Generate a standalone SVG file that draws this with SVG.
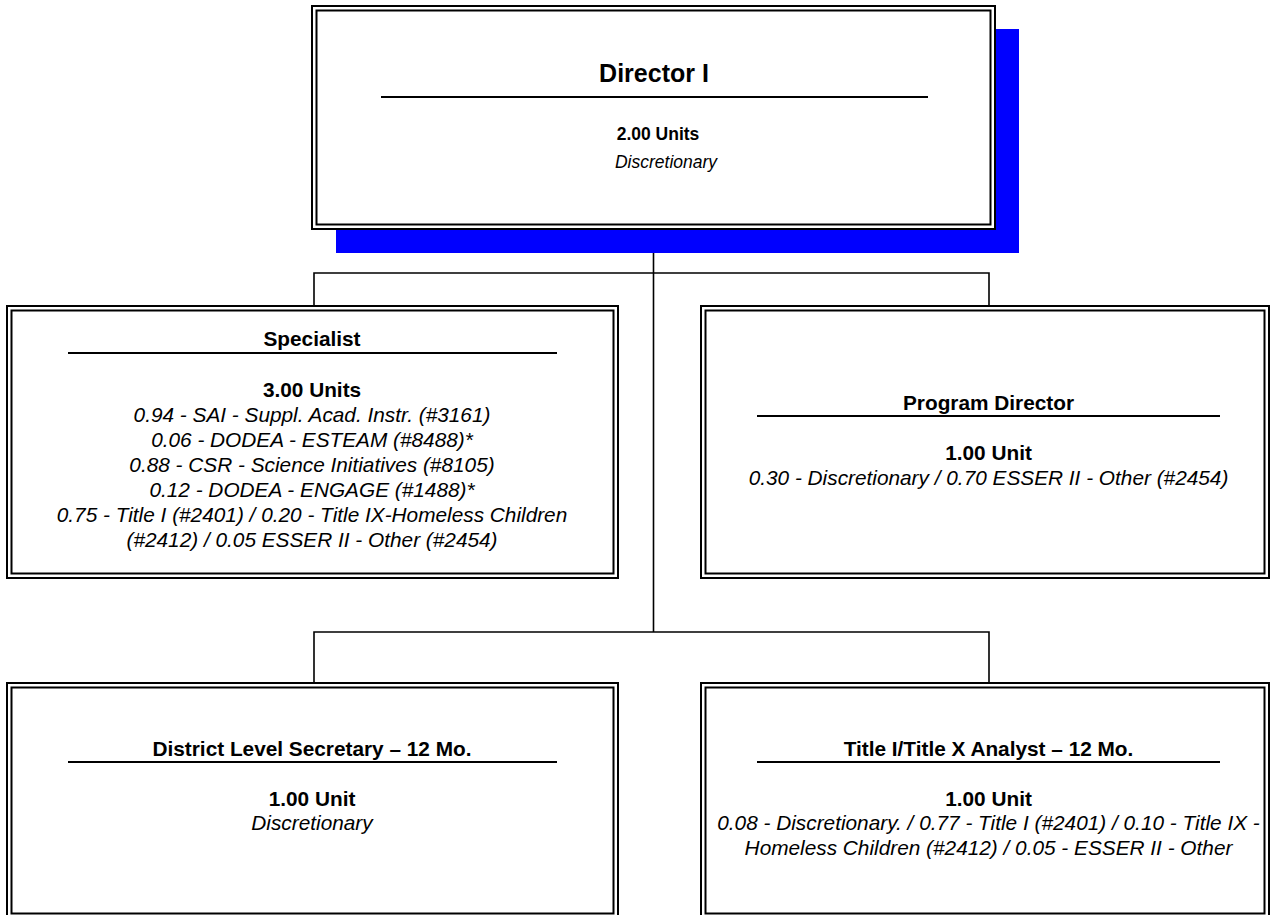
<svg xmlns="http://www.w3.org/2000/svg" width="1272" height="915" viewBox="0 0 1272 915">
<style>
.o{fill:#fff;stroke:#000;stroke-width:2}
.i{fill:none;stroke:#000;stroke-width:2}
.sh{fill:#0000ff}
.rule{stroke:#000;stroke-width:2}
.c{fill:none;stroke:#000;stroke-width:1.6}
text{font-family:"Liberation Sans",Arial,sans-serif;text-anchor:middle;fill:#000}
.t{font-weight:bold;font-size:20.8px}
.b{font-weight:bold;font-size:20.8px}
.it{font-style:italic;font-size:20.8px}
</style>
<rect width="1272" height="915" fill="#fff"/>
<g id="connectors">
<path class="c" d="M653.5,229 V632"/>
<path class="c" d="M314,306 V273 H989 V306"/>
<path class="c" d="M314,683 V632 H989 V683"/>
</g>
<g id="director">
<rect class="sh" x="336" y="29" width="683" height="224"/>
<rect class="o" x="312" y="6" width="683" height="223"/>
<rect class="i" x="316.5" y="10.5" width="674" height="214"/>
<text x="654" y="82" style="font-weight:bold;font-size:25px">Director I</text>
<line class="rule" x1="381" y1="97" x2="928" y2="97"/>
<text x="658" y="140" style="font-weight:bold;font-size:17.5px">2.00 Units</text>
<text x="666" y="168" style="font-style:italic;font-size:17.5px">Discretionary</text>
</g>
<g id="specialist">
<rect class="o" x="7" y="306" width="611" height="272"/>
<rect class="i" x="11.5" y="310.5" width="602" height="263"/>
<text class="t" x="312" y="346">Specialist</text>
<line class="rule" x1="68" y1="353" x2="557" y2="353"/>
<text class="b" x="312" y="397">3.00 Units</text>
<text class="it" x="312" y="422">0.94 - SAI - Suppl. Acad. Instr. (#3161)</text>
<text class="it" x="312" y="447">0.06 - DODEA - ESTEAM (#8488)*</text>
<text class="it" x="312" y="472">0.88 - CSR - Science Initiatives (#8105)</text>
<text class="it" x="312" y="497">0.12 - DODEA - ENGAGE (#1488)*</text>
<text class="it" x="312" y="522">0.75 - Title I (#2401) / 0.20 - Title IX-Homeless Children</text>
<text class="it" x="312" y="547">(#2412) / 0.05 ESSER II - Other (#2454)</text>
</g>
<g id="program-director">
<rect class="o" x="701" y="306" width="568" height="272"/>
<rect class="i" x="705.5" y="310.5" width="559" height="263"/>
<text class="t" x="988.5" y="410">Program Director</text>
<line class="rule" x1="757" y1="416" x2="1220" y2="416"/>
<text class="b" x="988.5" y="460">1.00 Unit</text>
<text class="it" x="988.5" y="485">0.30 - Discretionary / 0.70 ESSER II - Other (#2454)</text>
</g>
<g id="secretary">
<rect class="o" x="7" y="683" width="611" height="240"/>
<rect class="i" x="11.5" y="687.5" width="602" height="226"/>
<text class="t" x="312" y="756">District Level Secretary – 12 Mo.</text>
<line class="rule" x1="68" y1="762" x2="557" y2="762"/>
<text class="b" x="312" y="806">1.00 Unit</text>
<text class="it" x="312" y="830">Discretionary</text>
</g>
<g id="analyst">
<rect class="o" x="701" y="683" width="568" height="240"/>
<rect class="i" x="705.5" y="687.5" width="559" height="226"/>
<text class="t" x="988.5" y="756">Title I/Title X Analyst – 12 Mo.</text>
<line class="rule" x1="757" y1="762" x2="1220" y2="762"/>
<text class="b" x="988.5" y="806">1.00 Unit</text>
<text class="it" x="988.5" y="830">0.08 - Discretionary. / 0.77 - Title I (#2401) / 0.10 - Title IX -</text>
<text class="it" x="988.5" y="855">Homeless Children (#2412) / 0.05 - ESSER II - Other</text>
</g>
</svg>
